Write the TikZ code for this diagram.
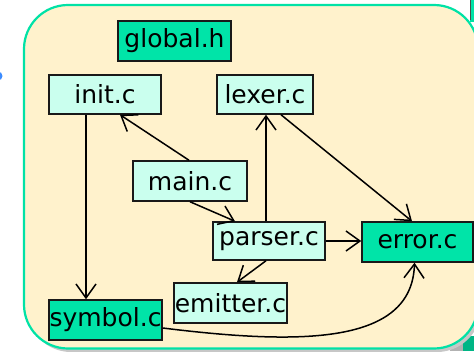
\documentclass[tikz,border=0pt]{standalone}
\usepackage{fontspec}
\setmainfont{DejaVu Sans}
\usetikzlibrary{arrows.meta}
\definecolor{cream}{RGB}{255,242,204}
\definecolor{tealb}{RGB}{0,226,166}
\definecolor{tealf}{RGB}{0,228,168}
\definecolor{lightc}{RGB}{202,255,238}
\definecolor{dotblue}{RGB}{60,140,255}
\tikzset{
  fbox/.style={draw=black!90, line width=1.5pt, inner sep=0pt, font=\fontsize{25}{30}\selectfont},
  lbox/.style={fbox, fill=lightc},
  dbox/.style={fbox, fill=tealf},
  arr/.style={line width=1.5pt, -{Straight Barb[length=14pt,width=20pt,line width=1.5pt]}},
}
\begin{document}
\begin{tikzpicture}[x=1pt,y=-1pt]
\useasboundingbox (0,0) rectangle (474,351);
\clip (0,0) rectangle (474,351);
% background fragments
\fill[dotblue] (-2,76) circle (4.5);
\fill[tealb] (470,-10) rectangle (480,22);
\fill[black!70] (469.5,-10) rectangle (470.5,20);
\fill[black!30] (450,338) rectangle (480,351);
\fill[tealb!80!black] (463,336) rectangle (480,351);
% shadow
\fill[black!22, rounded corners=44] (27,9) rectangle (481,352);
% main panel
\draw[fill=cream, draw=tealb, line width=2.2pt, rounded corners=44] (24,5) rectangle (478,348.5);
% nodes
\node[dbox, minimum width=113, minimum height=40] (global) at (174.5,41) {global.h};
\node[lbox, minimum width=112, minimum height=39] (init) at (105,94.5) {init.c};
\node[lbox, minimum width=96, minimum height=39] (lexer) at (265,94.5) {lexer.c};
\node[lbox, minimum width=114, minimum height=40] (main) at (190,181) {main.c};
\node[lbox, minimum width=112, minimum height=38] (parser) at (269,241) {parser.c};
\node[dbox, minimum width=111, minimum height=40] (error) at (417.5,242) {error.c};
\node[lbox, minimum width=113, minimum height=40] (emitter) at (230.5,303) {emitter.c};
\node[dbox, minimum width=113, minimum height=40] (symbol) at (105.5,320) {symbol.c};
% connectors
\draw[arr] ([xshift=-19pt]init.south) -- ([xshift=-19.5pt]symbol.north);
\draw[arr] ([xshift=-1pt]main.north) -- ([xshift=15pt]init.south);
\draw[arr] (main.south) -- ([xshift=-34pt]parser.north);
\draw[arr] ([xshift=-3pt]parser.north) -- ([xshift=1pt]lexer.south);
\draw[arr] ([xshift=16pt]lexer.south) -- ([xshift=-5.5pt]error.north);
\draw[arr] (parser.east) -- (parser.east -| error.west);
\draw[arr] ([xshift=-3pt]parser.south) -- ([xshift=6.5pt]emitter.north);
\draw[arr] ([yshift=-8pt]symbol.east) .. controls (300,345) and (412,345) .. ([xshift=-3pt]error.south);
\end{tikzpicture}
\end{document}
